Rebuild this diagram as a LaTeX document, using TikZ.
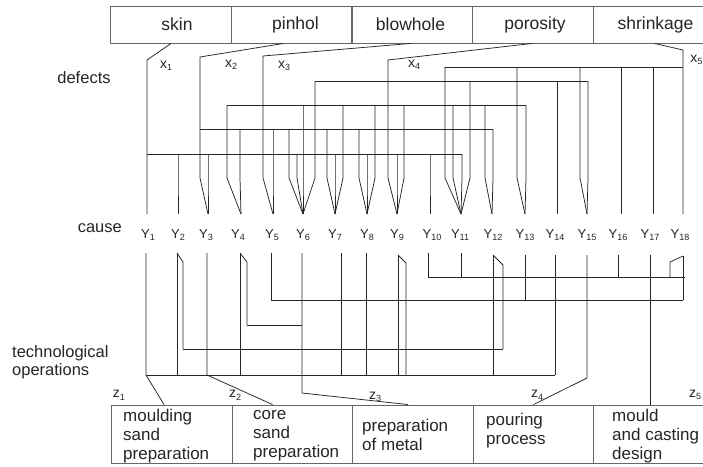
\documentclass[tikz,border=0pt]{standalone}
\usepackage{fontspec}
\setmainfont{Liberation Sans}
\newcommand{\sbs}[1]{\raisebox{-0.35ex}{\fontsize{9}{9}\selectfont #1}}
\begin{document}
\begin{tikzpicture}[x=1pt,y=-1pt,
  wire/.style={draw=black!85, line width=0.75pt},
  boxnode/.style={draw=black!60, line width=0.9pt, rectangle, minimum width=120.5pt, minimum height=37pt, inner sep=0pt, font=\fontsize{17.5}{17.5}\selectfont, text=black!85},
  botbox/.style={draw=black!60, line width=0.9pt, rectangle, minimum width=120.5pt, minimum height=58pt, inner sep=0pt},
  bottxt/.style={anchor=west, align=left, inner sep=0pt, font=\fontsize{17}{19}\selectfont, text=black!85},
  sidelbl/.style={inner sep=0pt, font=\fontsize{16.5}{17.5}\selectfont, text=black!85},
  ylbl/.style={inner sep=0pt, font=\fontsize{13}{13}\selectfont, text=black!85},
  xlbl/.style={inner sep=0pt, font=\fontsize{14}{14}\selectfont, text=black!85}]
\useasboundingbox (0,0) rectangle (703,466);
\fill[white] (0,0) rectangle (703,466);

% ---------- top boxes (defects)
\node[boxnode] (skin) at (171,24.5) {\hspace*{12pt}skin};
\node[boxnode] (pinhol) at (291.5,24.5) {\hspace*{8pt}pinhol};
\node[boxnode] (blowhole) at (412.5,24.5) {\hspace*{-4pt}blowhole};
\node[boxnode] (porosity) at (533,24.5) {\hspace*{4pt}porosity};
\node[boxnode] (shrinkage) at (653.5,24.5) {\hspace*{4pt}shrinkage};

% ---------- bottom boxes (operations)
\node[botbox] (op1) at (172,434) {};
\node[botbox] (op2) at (292.5,434) {};
\node[botbox] (op3) at (413,434) {};
\node[botbox] (op4) at (533.5,434) {};
\node[botbox] (op5) at (654,434) {};
\node[bottxt] (t1) at (123,436) {moulding\\sand\\preparation};
\node[bottxt] (t2) at (253,436) {core\\sand\\preparation};
\node[bottxt] (t3) at (362,435) {preparation\\of metal};
\node[bottxt] (t4) at (486,431) {pouring\\process};
\node[bottxt] (t5) at (612,436) {mould\\and casting\\design};

% ---------- side labels
\node[sidelbl] (ldef) at (84,78) {defects};
\node[sidelbl, anchor=east] (lcause) at (122,228) {cause};
\node[sidelbl, anchor=west, align=left] (lops) at (12,362) {technological\\operations};

% ---------- x labels
\node[xlbl] (lx1) at (166,66) {x\sbs{1}};
\node[xlbl] (lx2) at (231,65) {x\sbs{2}};
\node[xlbl] (lx3) at (284,66) {x\sbs{3}};
\node[xlbl] (lx4) at (414,65) {x\sbs{4}};
\node[xlbl, anchor=east] (lx5) at (702.5,60) {x\sbs{5}};

% ---------- z labels
\node[xlbl] (lz1) at (119,395) {z\sbs{1}};
\node[xlbl] (lz2) at (235,395) {z\sbs{2}};
\node[xlbl] (lz3) at (375,397) {z\sbs{3}};
\node[xlbl] (lz4) at (537,395) {z\sbs{4}};
\node[xlbl] (lz5) at (695,395) {z\sbs{5}};

% ---------- y labels
\foreach \i/\xx in {1/148,2/178,3/206,4/238,5/272,6/303,7/335,8/367,9/397,10/432,11/460,12/493,13/525,14/555,15/587,16/618,17/650,18/680}
  \node[ylbl] (ly\i) at (\xx,235) {Y\sbs{\i}};

% ---------- defect lines (x) and buses
% X1
\draw[wire] (skin.south) -- (147,60) -- (147,214);
\draw[wire] (147,154) -- (462,154);
\foreach \a/\t in {178/178,208/208,297/303,335/335,367/367,397/397,430/430,462/461}
  \draw[wire] (\a,154) -- (\a,178) -- (\t,214);
% X2
\draw[wire] ([xshift=-8pt]pinhol.south) -- (200,57) -- (200,178) -- (208,214);
\draw[wire] (200,129) -- (493,129);
\foreach \a/\t in {240/241,273/273,289/303,327/335,359/367,493/492}
  \draw[wire] (\a,129) -- (\a,178) -- (\t,214);
% X3
\draw[wire] ([xshift=-2pt]blowhole.south) -- (263,56) -- (263,178) -- (273,214);
\draw[wire] (227,105) -- (526,105);
\foreach \a/\t in {227/241,303/303,343/335,375/367,404/397,453/461,485/492,526/525}
  \draw[wire] (\a,105) -- (\a,178) -- (\t,214);
% X4
\draw[wire] ([xshift=-1pt]porosity.south) -- (388,60) -- (388,178) -- (397,214);
\draw[wire] (315,81) -- (588,81);
\foreach \a/\t in {315/303,470/461,557/557,588/587}
  \draw[wire] (\a,81) -- (\a,178) -- (\t,214);
% X5
\draw[wire] ([xshift=1pt]shrinkage.south) -- (683,50) -- (683,214);
\draw[wire] (445,67) -- (683,67);
\foreach \a/\t in {445/461,517/525,580/587,621/621,653/653}
  \draw[wire] (\a,67) -- (\a,178) -- (\t,214);

% ---------- lower part (cause -> operations)
% buses
\draw[wire] (146,375) -- (555,375);
\draw[wire] (183,349) -- (503,349);
\draw[wire] (247,325) -- (302,325);
\draw[wire] (271,300) -- (683,300);
\draw[wire] (428,277) -- (685,277);
% Y1 -> z1
\draw[wire] (146,253) -- (146,375) -- ([xshift=-8pt]op1.north);
% Y2
\draw[wire] (177,253) -- (177,375);
\draw[wire] (177,253) -- (183,262) -- (183,349);
% Y3 -> z2
\draw[wire] (207,253) -- (207,375) -- ([xshift=-20pt]op2.north);
% Y4
\draw[wire] (240,253) -- (240,375);
\draw[wire] (240,253) -- (247,262) -- (247,325);
% Y5
\draw[wire] (271,253) -- (271,300);
% Y6 -> z3
\draw[wire] (302,253) -- (302,393) -- ([xshift=-5pt]op3.north);
% Y7, Y8
\draw[wire] (341,253) -- (341,375);
\draw[wire] (366,253) -- (366,375);
% Y9
\draw[wire] (398,255) -- (398,375);
\draw[wire] (398,255) -- (406,263) -- (406,375);
% Y10, Y11
\draw[wire] (428,253) -- (428,277);
\draw[wire] (461,253) -- (461,277);
% Y12
\draw[wire] (493,255) -- (493,375);
\draw[wire] (493,255) -- (503,265) -- (503,349);
% Y13, Y14
\draw[wire] (525,255) -- (525,300);
\draw[wire] (555,255) -- (555,375);
% Y15 -> z4
\draw[wire] (587,255) -- (587,378) -- (op4.north);
% Y16
\draw[wire] (618,255) -- (618,277);
% Y17 -> z5
\draw[wire] (650,255) -- (650,405);
% Y18
\draw[wire] (683,256) -- (683,300);
\draw[wire] (683,256) -- (670,262) -- (670,277);
\end{tikzpicture}
\end{document}
